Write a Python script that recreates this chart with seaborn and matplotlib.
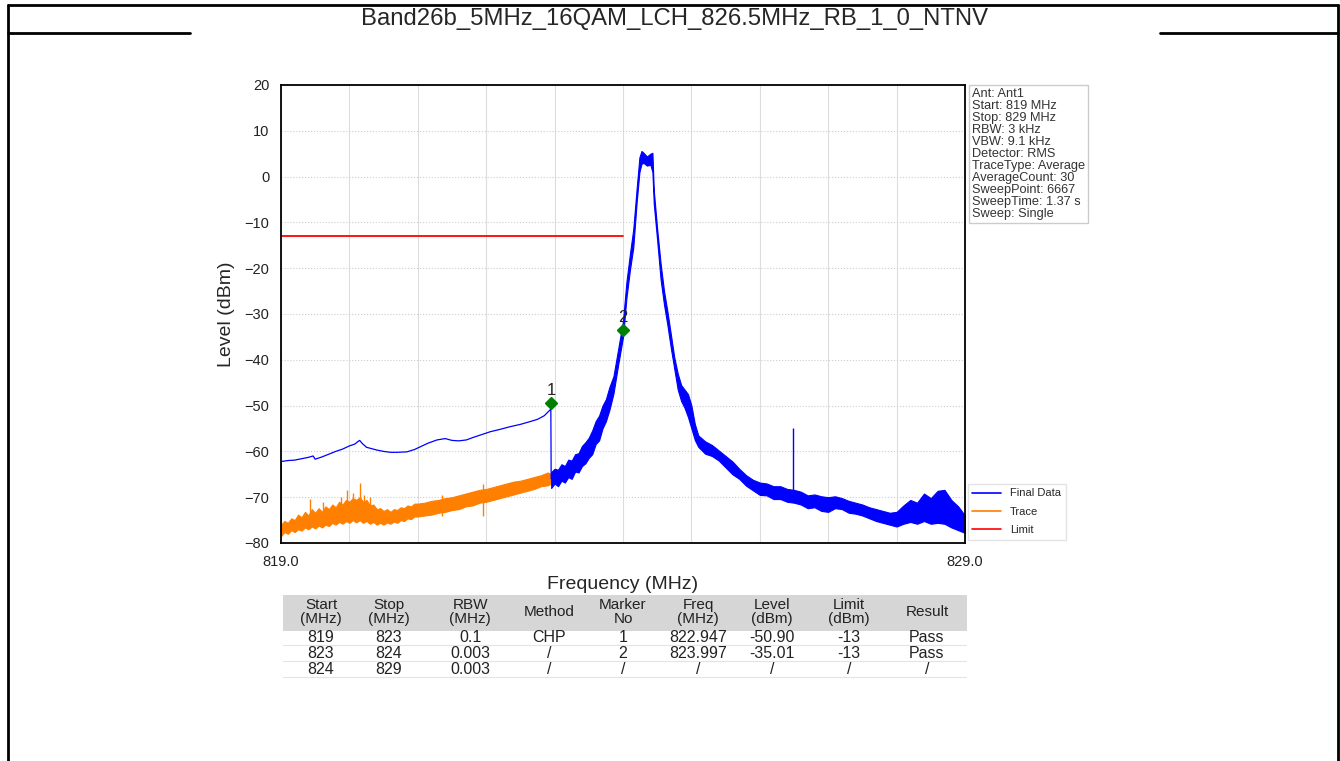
import matplotlib
matplotlib.use("Agg")
import matplotlib.pyplot as plt
from matplotlib.lines import Line2D
from matplotlib.patches import Rectangle
import seaborn as sns
import numpy as np

title = "Band26b_5MHz_16QAM_LCH_826.5MHz_RB_1_0_NTNV"

# thin "Final Data" part below 822.95 MHz (max-hold style line)
thin_freq = [819.0, 819.004, 819.1, 819.2, 819.3, 819.4, 819.47, 819.5, 819.6, 819.7,
             819.8, 819.9, 820.0, 820.08, 820.12, 820.15, 820.19, 820.25, 820.3, 820.4,
             820.5, 820.6, 820.7, 820.84, 820.95, 821.05, 821.15, 821.28, 821.4, 821.5,
             821.6, 821.71, 821.8, 821.9, 822.06, 822.2, 822.35, 822.5, 822.64, 822.75,
             822.85, 822.93, 822.945, 822.95]
thin_level = [-78.0, -62.2, -62.0, -61.9, -61.6, -61.3, -61.0, -61.7, -61.2, -60.6,
              -60.0, -59.5, -58.8, -58.4, -57.9, -57.6, -58.3, -59.1, -59.3, -59.7,
              -60.0, -60.2, -60.2, -60.1, -59.6, -58.9, -58.2, -57.5, -57.2, -57.6,
              -57.7, -57.5, -57.0, -56.5, -55.7, -55.2, -54.6, -54.1, -53.5, -53.0,
              -52.2, -51.0, -50.8, -66.0]

# orange "Trace" band (lower / upper edge of the noisy trace)
trace_freq = [819.0, 819.05, 819.1, 819.15, 819.2, 819.25, 819.3, 819.35, 819.4, 819.45,
              819.5, 819.55, 819.6, 819.65, 819.7, 819.75, 819.8, 819.85, 819.9, 819.95,
              820.0, 820.05, 820.1, 820.15, 820.2, 820.25, 820.3, 820.35, 820.4, 820.45,
              820.5, 820.55, 820.6, 820.65, 820.7, 820.75, 820.8, 820.85, 820.9, 820.95,
              821.0, 821.1, 821.2, 821.3, 821.4, 821.5, 821.6, 821.7, 821.8, 821.9,
              822.0, 822.1, 822.2, 822.3, 822.4, 822.5, 822.6, 822.7, 822.8, 822.9, 822.95]
trace_low = [-78.5, -77.6, -78.0, -77.2, -77.6, -77.0, -77.3, -76.6, -77.0, -76.4,
             -76.8, -76.2, -76.6, -76.0, -76.3, -75.6, -76.0, -75.4, -75.8, -75.2,
             -75.6, -75.0, -75.5, -75.0, -75.6, -75.2, -75.8, -75.4, -76.0, -75.6,
             -76.0, -75.5, -75.8, -75.3, -75.6, -75.0, -75.2, -74.6, -74.8, -74.2,
             -74.2, -74.0, -73.8, -73.4, -73.2, -72.8, -72.6, -72.0, -71.8, -71.2,
             -71.0, -70.6, -70.2, -69.8, -69.4, -69.0, -68.6, -68.2, -67.6, -67.4, -67.0]
trace_high = [-76.0, -75.2, -75.6, -74.6, -75.0, -73.8, -74.4, -73.2, -74.0, -72.6,
              -73.4, -72.4, -73.2, -72.0, -72.6, -71.6, -72.2, -71.0, -71.6, -70.6,
              -71.0, -70.2, -70.6, -70.0, -71.0, -70.6, -71.8, -71.6, -72.6, -72.4,
              -73.0, -72.6, -73.2, -72.6, -72.8, -72.2, -72.4, -71.8, -72.0, -71.4,
              -71.4, -71.2, -70.8, -70.6, -70.2, -70.0, -69.6, -69.2, -68.8, -68.4,
              -68.2, -67.8, -67.4, -67.0, -66.6, -66.4, -66.0, -65.6, -65.2, -64.6, -65.0]
# isolated orange spikes (freq, top level)
spike_freq = [819.42, 819.62, 819.88, 819.96, 820.05, 820.15, 820.22, 820.3, 821.35, 821.95]
spike_top = [-70.5, -71.0, -70.0, -68.5, -69.0, -67.0, -69.5, -70.0, -69.5, -67.2]

# blue "Final Data" band above 822.95 MHz
final_freq = [822.95, 823.0, 823.05, 823.1, 823.15, 823.2, 823.25, 823.3, 823.35, 823.4,
              823.45, 823.5, 823.55, 823.6, 823.65, 823.7, 823.75, 823.8, 823.86, 823.93,
              824.0, 824.05, 824.1, 824.15, 824.2, 824.24, 824.27, 824.3, 824.35, 824.4,
              824.43, 824.45, 824.5, 824.55, 824.6, 824.65, 824.7, 824.75, 824.8, 824.85,
              824.9, 824.95, 825.0, 825.05, 825.1, 825.2, 825.3, 825.4, 825.5, 825.6,
              825.7, 825.8, 825.9, 826.0, 826.1, 826.2, 826.3, 826.4, 826.5, 826.6,
              826.7, 826.8, 826.9, 827.0, 827.1, 827.2, 827.3, 827.4, 827.5, 827.6,
              827.7, 827.8, 827.9, 828.0, 828.1, 828.2, 828.3, 828.4, 828.5, 828.6,
              828.7, 828.8, 828.9, 829.0]
final_low = [-68.0, -67.0, -67.6, -66.4, -66.8, -65.6, -66.0, -64.4, -64.6, -63.2,
             -62.6, -61.4, -60.6, -58.4, -57.6, -55.0, -53.4, -51.0, -47.4, -41.0,
             -35.0, -26.5, -20.5, -15.5, -5.5, 1.0, 2.8, 3.0, 2.4, 2.6,
             1.0, -6.0, -14.0, -22.5, -28.0, -32.5, -37.5, -42.0, -46.5, -49.0,
             -50.5, -52.5, -55.0, -57.5, -59.0, -60.5, -61.0, -62.0, -63.5, -65.0,
             -66.0, -67.5, -68.5, -69.5, -69.6, -70.4, -70.4, -71.0, -71.2, -71.6,
             -72.4, -72.2, -73.0, -73.2, -72.4, -72.6, -73.4, -73.6, -74.0, -74.6,
             -75.2, -75.6, -76.0, -76.4, -75.8, -75.4, -75.8, -75.2, -75.8, -75.6,
             -75.8, -76.6, -77.2, -77.8]
final_high = [-64.5, -63.8, -64.0, -62.8, -63.2, -61.8, -62.0, -60.6, -60.4, -58.8,
              -58.0, -57.0, -55.4, -53.4, -52.2, -50.0, -48.6, -46.0, -43.6, -37.6,
              -31.5, -23.0, -17.0, -11.5, -2.5, 4.2, 5.6, 5.2, 4.4, 5.0,
              5.2, -3.0, -11.5, -19.0, -25.0, -29.5, -34.5, -39.5, -43.0, -45.5,
              -46.5, -47.5, -50.0, -54.0, -56.5, -57.8, -58.6, -59.8, -61.0, -62.2,
              -63.8, -65.2, -66.2, -66.8, -67.0, -67.6, -67.6, -68.2, -68.4, -68.8,
              -69.6, -69.4, -69.8, -70.0, -69.8, -70.2, -70.8, -71.2, -71.6, -72.2,
              -72.6, -73.0, -73.4, -73.2, -71.8, -70.6, -71.2, -69.2, -70.2, -68.6,
              -68.4, -70.6, -72.0, -74.0]
blue_spike_freq = [826.49]
blue_spike_top = [-55.0]

limit_freq = [819.0, 824.0]
limit_level = [-13.0, -13.0]

marker_no = ["1", "2"]
marker_freq = [822.947, 823.997]
marker_level = [-49.5, -33.5]  # as drawn on the plot

info_lines = ["Ant: Ant1", "Start: 819 MHz", "Stop: 829 MHz", "RBW: 3 kHz", "VBW: 9.1 kHz",
              "Detector: RMS", "TraceType: Average", "AverageCount: 30", "SweepPoint: 6667",
              "SweepTime: 1.37 s", "Sweep: Single"]

table_header = ["Start\n(MHz)", "Stop\n(MHz)", "RBW\n(MHz)", "Method", "Marker\nNo",
                "Freq\n(MHz)", "Level\n(dBm)", "Limit\n(dBm)", "Result"]
table_rows = [
    ["819", "823", "0.1", "CHP", "1", "822.947", "-50.90", "-13", "Pass"],
    ["823", "824", "0.003", "/", "2", "823.997", "-35.01", "-13", "Pass"],
    ["824", "829", "0.003", "/", "/", "/", "/", "/", "/"],
]

sns.set_style("white")
plt.rcParams["font.family"] = ["Liberation Sans", "DejaVu Sans"]

W, H = 1340, 761
fig = plt.figure(figsize=(W / 100, H / 100), dpi=100)


def fx(px):
    return px / W


def fy(py):
    return 1 - py / H


# page frame / title bar
for xs, ys in [((8, 1338), (5, 5)), ((8, 8), (5, 761)), ((1338, 1338), (5, 761)),
               ((8, 190), (33, 33)), ((1160, 1338), (33, 33))]:
    fig.add_artist(Line2D([fx(xs[0]), fx(xs[1])], [fy(ys[0]), fy(ys[1])],
                          transform=fig.transFigure, color="black", lw=2))
fig.text(fx(675), fy(19), title, ha="center", va="center", fontsize=17.2)

ax = fig.add_axes([fx(281), fy(543), fx(965) - fx(281), fy(85) - fy(543)])

ax.fill_between(trace_freq, trace_low, trace_high, color="#ff8000", lw=0.8,
                edgecolor="#ff8000")
ax.vlines(spike_freq, [-74] * len(spike_freq), spike_top, color="#ff8000", lw=1)
ax.fill_between(final_freq, final_low, final_high, color="blue", lw=0.8, edgecolor="blue")
ax.vlines(blue_spike_freq, [-69] * len(blue_spike_freq), blue_spike_top, color="blue", lw=1)
sns.lineplot(x=thin_freq, y=thin_level, ax=ax, color="blue", lw=0.9, sort=False)
sns.lineplot(x=limit_freq, y=limit_level, ax=ax, color="red", lw=1.3, sort=False)

ax.plot(marker_freq, marker_level, "D", color="green", markersize=6.5, ls="none")
for no, f, lv in zip(marker_no, marker_freq, marker_level):
    ax.text(f, lv + 1.2, no, ha="center", va="bottom", fontsize=12, color="#222222")

ax.set_xlim(819, 829)
ax.set_ylim(-80, 20)
ax.set_xticks(np.arange(819, 830, 1))
ax.set_xticklabels(["819.0"] + [""] * 9 + ["829.0"])
ax.set_yticks(np.arange(-80, 21, 10))
ax.tick_params(direction="out", length=5, width=1, labelsize=10.5, colors="#222222")
ax.grid(axis="x", color="#dddddd", lw=0.8)
ax.grid(axis="y", color="#cccccc", lw=0.8, ls=":")
for sp in ax.spines.values():
    sp.set_color("black")
    sp.set_linewidth(1.3)
ax.set_xlabel("Frequency (MHz)", fontsize=14, labelpad=5)
ax.set_ylabel("Level (dBm)", fontsize=14, labelpad=7)

handles = [Line2D([], [], color="blue", lw=1.2), Line2D([], [], color="#ff8000", lw=1.2),
           Line2D([], [], color="red", lw=1.2)]
leg = ax.legend(handles, ["Final Data", "Trace", "Limit"], loc="upper left",
                bbox_to_anchor=(fx(968), fy(484)), bbox_transform=fig.transFigure,
                fontsize=8, frameon=True, fancybox=False, handlelength=2.6,
                borderaxespad=0, labelspacing=0.75)
leg.get_frame().set_edgecolor("#dddddd")

fig.text(fx(972), fy(88), "\n".join(info_lines), ha="left", va="top", fontsize=9.2,
         linespacing=1.0, color="#333333",
         bbox=dict(boxstyle="square,pad=0.25", facecolor="white", edgecolor="#cccccc"))

# results table
tab = fig.add_axes([fx(283), fy(680), fx(967) - fx(283), fy(595) - fy(680)])
tab.set_xlim(283, 967)
tab.set_ylim(680, 595)
tab.axis("off")
tab.add_patch(Rectangle((283, 595), 684, 36, color="#d6d6d6", lw=0))
col_x = [321, 389, 470, 549, 623, 698, 772, 849, 927]
for cx, h in zip(col_x, table_header):
    tab.text(cx, 612, h, ha="center", va="center", fontsize=11, linespacing=0.95,
             color="#222222")
for ri, row in enumerate(table_rows):
    for cx, v in zip(col_x, row):
        tab.text(cx, 637 + ri * 16, v, ha="center", va="center", fontsize=11.5,
                 color="#222222")
for yy in [645, 661, 677]:
    tab.plot([283, 967], [yy, yy], color="#e4e4e4", lw=0.8)

fig.savefig("out.png", dpi=100)
